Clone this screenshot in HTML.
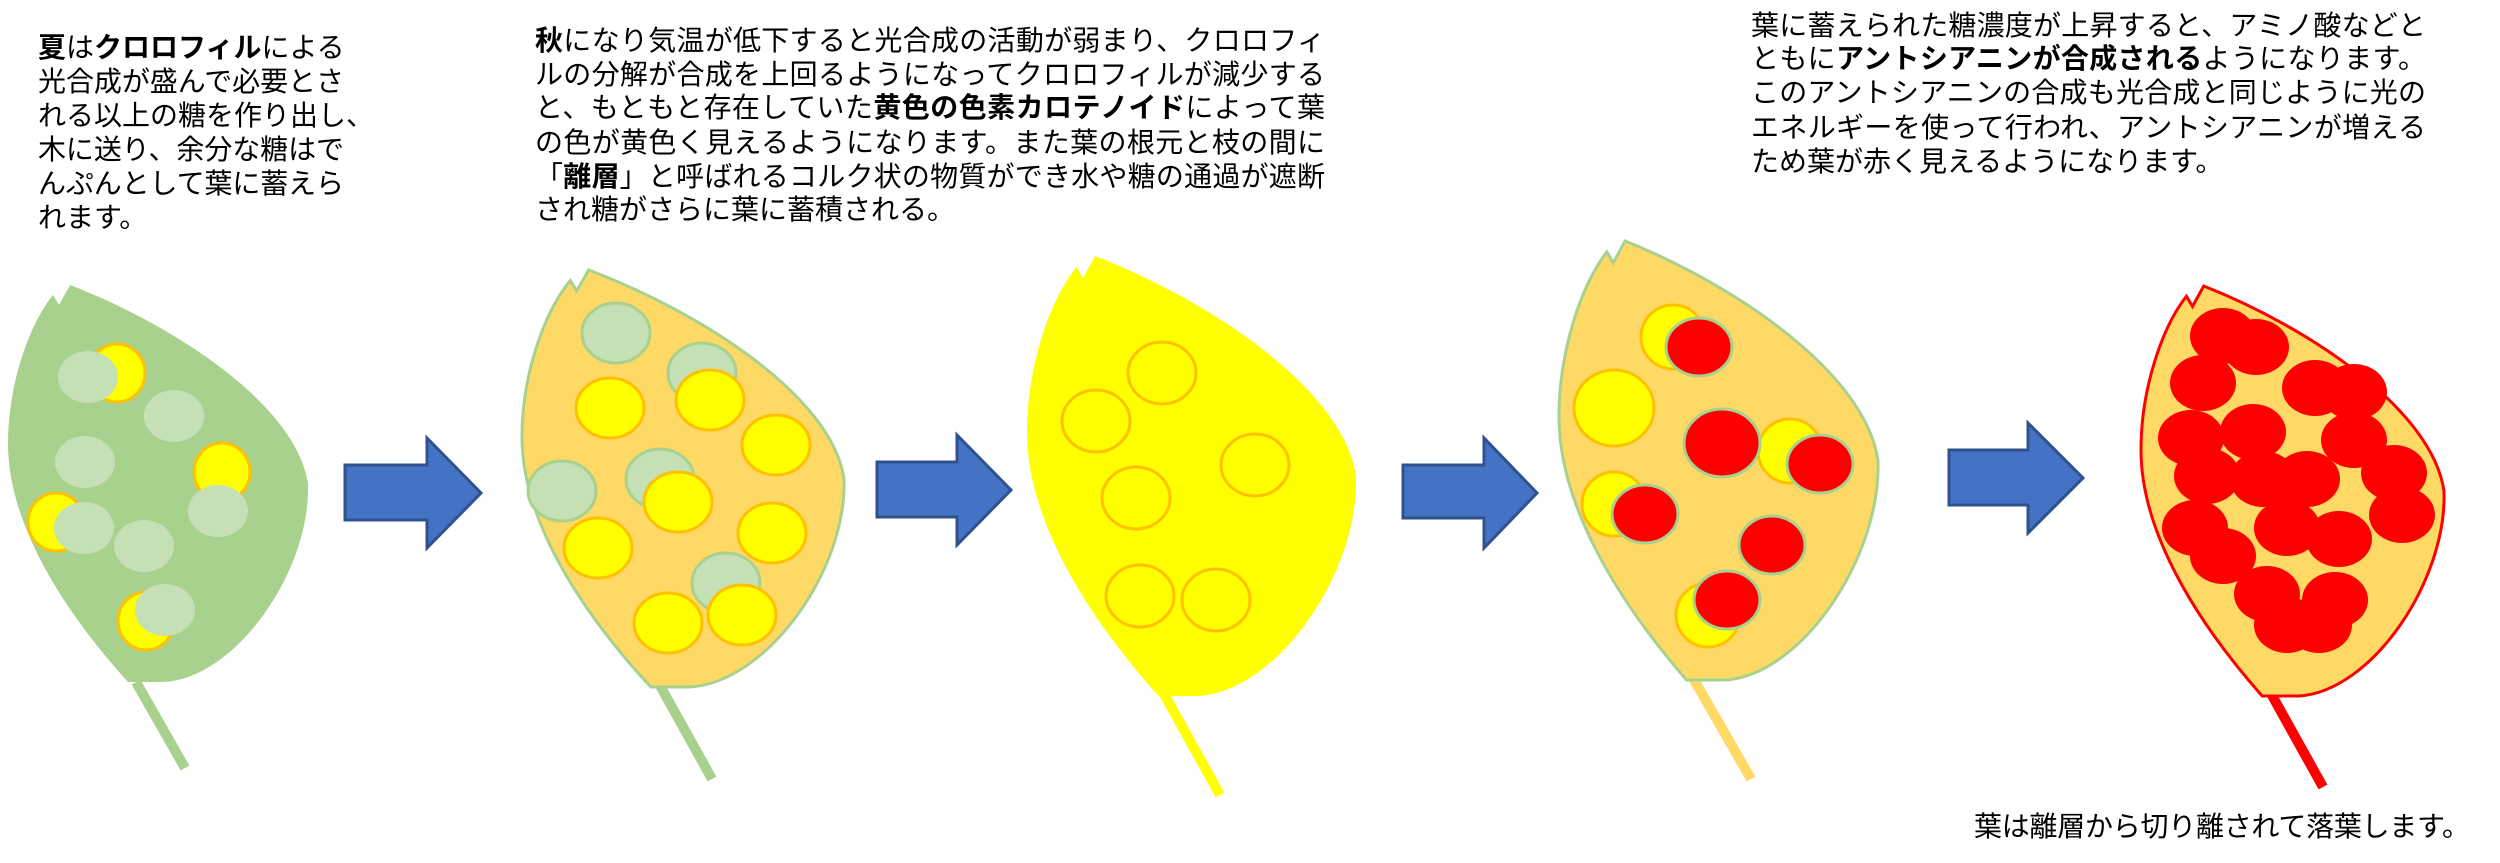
<!DOCTYPE html>
<html><head><meta charset="utf-8"><style>
html,body{margin:0;padding:0;background:#fff;}
svg{display:block;}
text{font-family:"Liberation Sans","Noto Sans CJK JP",sans-serif;font-size:28px;fill:#000;}
.b{font-weight:bold;}
</style></head><body>
<svg width="2500" height="863" viewBox="0 0 2500 863" xmlns="http://www.w3.org/2000/svg">
<defs>
<path id="leaf" vector-effect="non-scaling-stroke" d="M20.7,0 C55,10 96,30 100,50 C101,72 76,99 52,100 L40,100 C22,85 0,62 0,40 C0,25 7,10 15,2.5 L17,5 Z"/>
</defs>

<text x="38" y="57"><tspan class="b">夏</tspan>は<tspan class="b">クロロフィル</tspan>による</text>
<text x="38" y="91" textLength="306">光合成が盛んで必要とさ</text>
<text x="38" y="125">れる以上の糖を作り出し、</text>
<text x="38" y="159" textLength="306">木に送り、余分な糖はで</text>
<text x="38" y="193" textLength="306">んぷんとして葉に蓄えら</text>
<text x="38" y="227">れます。</text>

<text x="535" y="50" textLength="790"><tspan class="b">秋</tspan>になり気温が低下すると光合成の活動が弱まり、クロロフィ</text>
<text x="535" y="84" textLength="790">ルの分解が合成を上回るようになってクロロフィルが減少する</text>
<text x="535" y="117" textLength="790">と、もともと存在していた<tspan class="b">黄色の色素カロテノイド</tspan>によって葉</text>
<text x="535" y="152" textLength="790">の色が黄色く見えるようになります。また葉の根元と枝の間に</text>
<text x="535" y="186" textLength="790">「<tspan class="b">離層</tspan>」と呼ばれるコルク状の物質ができ水や糖の通過が遮断</text>
<text x="535" y="219">され糖がさらに葉に蓄積される。</text>

<text x="1751" y="35" textLength="675">葉に蓄えられた糖濃度が上昇すると、アミノ酸などと</text>
<text x="1751" y="68" textLength="675">ともに<tspan class="b">アントシアニンが合成される</tspan>ようになります。</text>
<text x="1751" y="102" textLength="675">このアントシアニンの合成も光合成と同じように光の</text>
<text x="1751" y="137" textLength="675">エネルギーを使って行われ、アントシアニンが増える</text>
<text x="1751" y="171">ため葉が赤く見えるようになります。</text>

<text x="1974" y="836" textLength="496">葉は離層から切り離されて落葉します。</text>

<line x1="136" y1="682" x2="185" y2="768" stroke="#A9D18E" stroke-width="10"/>
<line x1="658" y1="682" x2="712" y2="779" stroke="#A9D18E" stroke-width="10"/>
<line x1="1164" y1="694" x2="1220" y2="795" stroke="#FFFF00" stroke-width="10"/>
<line x1="1693" y1="678" x2="1751" y2="779" stroke="#FFD966" stroke-width="10"/>
<line x1="2269" y1="690" x2="2323" y2="787" stroke="#FF0000" stroke-width="10"/>

<use href="#leaf" transform="translate(8,285) scale(3,3.97)" fill="#A9D18E"/>
<g stroke="#FFC000" stroke-width="3" fill="#FFFF00">
<ellipse cx="117" cy="373" rx="28" ry="29"/><ellipse cx="222" cy="472" rx="28" ry="29"/>
<ellipse cx="56" cy="522" rx="28" ry="29"/><ellipse cx="146" cy="621" rx="28" ry="29"/>
</g>
<g fill="#C5E0B4">
<ellipse cx="88" cy="377" rx="30" ry="26"/><ellipse cx="174" cy="416" rx="30" ry="26"/>
<ellipse cx="85" cy="462" rx="30" ry="26"/><ellipse cx="218" cy="511" rx="30" ry="26"/>
<ellipse cx="84" cy="528" rx="30" ry="26"/><ellipse cx="144" cy="546" rx="30" ry="26"/>
<ellipse cx="165" cy="610" rx="30" ry="26"/>
</g>

<use href="#leaf" transform="translate(522,270) scale(3.22,4.17)" fill="#FFD966" stroke="#A9D18E" stroke-width="3"/>
<g fill="#C5E0B4" stroke="#A9D18E" stroke-width="3">
<ellipse cx="616" cy="333" rx="34" ry="30"/><ellipse cx="702" cy="373" rx="34" ry="30"/>
<ellipse cx="660" cy="479" rx="34" ry="30"/><ellipse cx="562" cy="491" rx="34" ry="30"/>
<ellipse cx="726" cy="583" rx="34" ry="30"/>
</g>
<g fill="#FFFF00" stroke="#FFC000" stroke-width="3">
<ellipse cx="610" cy="408" rx="34" ry="30"/><ellipse cx="710" cy="400" rx="34" ry="30"/>
<ellipse cx="776" cy="445" rx="34" ry="30"/><ellipse cx="678" cy="502" rx="34" ry="30"/>
<ellipse cx="772" cy="533" rx="34" ry="30"/><ellipse cx="598" cy="548" rx="34" ry="30"/>
<ellipse cx="668" cy="623" rx="34" ry="30"/><ellipse cx="742" cy="615" rx="34" ry="30"/>
</g>

<use href="#leaf" transform="translate(1027,256) scale(3.29,4.4)" fill="#FFFF00"/>
<g fill="#FFFF00" stroke="#FFC000" stroke-width="3">
<ellipse cx="1162" cy="373" rx="34" ry="31"/><ellipse cx="1096" cy="421" rx="34" ry="31"/>
<ellipse cx="1136" cy="498" rx="34" ry="31"/><ellipse cx="1140" cy="596" rx="34" ry="31"/>
<ellipse cx="1216" cy="600" rx="34" ry="31"/><ellipse cx="1255" cy="465" rx="34" ry="31"/>
</g>

<use href="#leaf" transform="translate(1559,241) scale(3.19,4.39)" fill="#FFD966" stroke="#A9D18E" stroke-width="3"/>
<g fill="#FFFF00" stroke="#FFC000" stroke-width="3">
<ellipse cx="1673" cy="337" rx="32" ry="32"/><ellipse cx="1614" cy="408" rx="40" ry="38"/>
<ellipse cx="1790" cy="451" rx="32" ry="32"/><ellipse cx="1614" cy="504" rx="32" ry="32"/>
<ellipse cx="1708" cy="615" rx="32" ry="32"/>
</g>
<g fill="#FF0000" stroke="#A9D18E" stroke-width="3">
<ellipse cx="1699" cy="347" rx="33" ry="29"/><ellipse cx="1722" cy="443" rx="38" ry="34"/>
<ellipse cx="1820" cy="464" rx="33" ry="29"/><ellipse cx="1645" cy="514" rx="33" ry="29"/>
<ellipse cx="1772" cy="545" rx="33" ry="29"/><ellipse cx="1727" cy="600" rx="33" ry="29"/>
</g>

<use href="#leaf" transform="translate(2141,286) scale(3.03,4.1)" fill="#FFD966" stroke="#FF0000" stroke-width="3"/>
<g fill="#FF0000">
<ellipse cx="2223" cy="336" rx="33" ry="28"/><ellipse cx="2256" cy="347" rx="33" ry="28"/>
<ellipse cx="2203" cy="383" rx="33" ry="28"/><ellipse cx="2315" cy="388" rx="33" ry="28"/>
<ellipse cx="2354" cy="392" rx="33" ry="28"/><ellipse cx="2191" cy="438" rx="33" ry="28"/>
<ellipse cx="2253" cy="432" rx="33" ry="28"/><ellipse cx="2354" cy="440" rx="33" ry="28"/>
<ellipse cx="2207" cy="476" rx="33" ry="28"/><ellipse cx="2263" cy="479" rx="33" ry="28"/>
<ellipse cx="2307" cy="479" rx="33" ry="28"/><ellipse cx="2394" cy="473" rx="33" ry="28"/>
<ellipse cx="2402" cy="515" rx="33" ry="28"/><ellipse cx="2195" cy="528" rx="33" ry="28"/>
<ellipse cx="2287" cy="528" rx="33" ry="28"/><ellipse cx="2339" cy="539" rx="33" ry="28"/>
<ellipse cx="2223" cy="556" rx="33" ry="28"/><ellipse cx="2335" cy="600" rx="33" ry="28"/>
<ellipse cx="2267" cy="594" rx="33" ry="28"/><ellipse cx="2287" cy="625" rx="33" ry="28"/>
<ellipse cx="2319" cy="625" rx="33" ry="28"/>
</g>

<g fill="#4472C4" stroke="#2F528F" stroke-width="3">
<polygon points="345,465 427,465 427,438 481,493 427,548 427,520 345,520"/>
<polygon points="877,462 957,462 957,435 1011,490 957,545 957,517 877,517"/>
<polygon points="1403,465 1484,465 1484,438 1537,493 1484,548 1484,518 1403,518"/>
<polygon points="1949,450 2028,450 2028,423 2083,478 2028,533 2028,505 1949,505"/>
</g>
</svg>
</body></html>
